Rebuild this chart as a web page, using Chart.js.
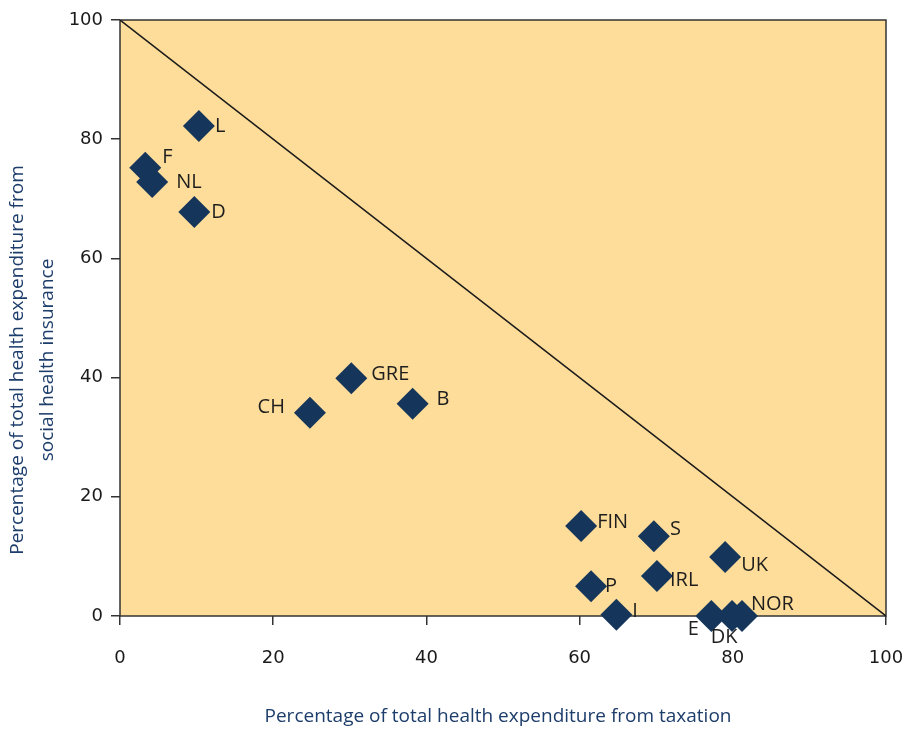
<!DOCTYPE html>
<html>
<head>
<meta charset="utf-8">
<script src="https://cdn.jsdelivr.net/npm/chart.js@4/dist/chart.umd.min.js"></script>
<style>
  html, body { margin: 0; padding: 0; background: #fff; }
  #wrap { width: 904px; height: 731px; }
</style>
</head>
<body>
<div id="wrap"><canvas id="chart"></canvas></div>
<script>
const countries = ["L", "F", "NL", "D", "GRE", "CH", "B", "FIN", "S", "UK", "IRL", "P", "I", "E", "DK", "NOR"];
const taxation = [10.3, 3.3, 4.2, 9.7, 30.2, 24.8, 38.2, 60.2, 69.7, 79.0, 70.1, 61.5, 64.8, 77.2, 79.9, 81.2];
const socialInsurance = [82.2, 75.2, 72.8, 67.8, 39.9, 34.1, 35.6, 15.1, 13.4, 9.9, 6.7, 5.0, 0.2, 0, 0, 0];
const diagonalX = [0, 100];
const diagonalY = [100, 0];
const tickValues = [0, 20, 40, 60, 80, 100];

// where each country label sits relative to its marker: [dx, dy, align]
const labelOffsets = [
  [16, 0, "left"], [17, -11, "left"], [24, 0, "left"], [17, 0, "left"],
  [20, -4, "left"], [-25, -5, "right"], [24, -5, "left"], [16, -4, "left"],
  [16, -7, "left"], [16, 8, "left"], [13, 4, "left"], [14, 0, "left"],
  [16, -4, "left"], [-18, 13, "center"], [-8, 21, "center"], [9, -12, "left"]
];

const NAVY = "#15365a";
const TITLE_COLOR = "#1d3d6b";

const plotBackground = {
  id: "plotBackground",
  beforeDatasetsDraw(chart) {
    const { ctx, chartArea: a } = chart;
    ctx.save();
    ctx.fillStyle = "#fedd9a";
    ctx.fillRect(a.left, a.top, a.right - a.left, a.bottom - a.top);
    ctx.strokeStyle = "#333";
    ctx.lineWidth = 1.5;
    ctx.strokeRect(a.left, a.top, a.right - a.left, a.bottom - a.top);
    ctx.restore();
  }
};

const pointLabels = {
  id: "pointLabels",
  afterDatasetsDraw(chart) {
    const { ctx } = chart;
    const meta = chart.getDatasetMeta(1);
    ctx.save();
    ctx.font = "20px 'Open Sans'";
    ctx.fillStyle = "#1e1e1e";
    ctx.textBaseline = "middle";
    meta.data.forEach((pt, i) => {
      const [dx, dy, align] = labelOffsets[i];
      ctx.textAlign = align;
      ctx.fillText(countries[i], pt.x + dx, pt.y + dy);
    });
    ctx.restore();
  }
};

const axisTitles = {
  id: "axisTitles",
  afterDraw(chart) {
    const { ctx } = chart;
    ctx.save();
    ctx.font = "19px 'Open Sans'";
    ctx.fillStyle = TITLE_COLOR;
    ctx.textAlign = "center";
    ctx.textBaseline = "middle";
    ctx.fillText("Percentage of total health expenditure from taxation", 498, 717);
    ctx.translate(0, 360);
    ctx.rotate(-Math.PI / 2);
    ctx.fillText("Percentage of total health expenditure from", 0, 18);
    ctx.fillText("social health insurance", 0, 48);
    ctx.restore();
  }
};

const noPad = scale => {
  scale.paddingLeft = 0;
  scale.paddingRight = 0;
  scale.paddingTop = 0;
  scale.paddingBottom = 0;
};

new Chart(document.getElementById("chart"), {
  type: "scatter",
  data: {
    datasets: [
      {
        type: "line",
        data: diagonalX.map((x, i) => ({ x, y: diagonalY[i] })),
        borderColor: "#1a1a1a",
        borderWidth: 1.5,
        pointRadius: 0,
        order: 2
      },
      {
        data: taxation.map((x, i) => ({ x, y: socialInsurance[i] })),
        pointStyle: "rectRot",
        pointRadius: 16,
        pointHoverRadius: 16,
        backgroundColor: NAVY,
        borderWidth: 0,
        clip: false,
        order: 1
      }
    ]
  },
  options: {
    responsive: true,
    maintainAspectRatio: false,
    animation: false,
    devicePixelRatio: 1,
    layout: { padding: { top: 20, right: 18, left: 0, bottom: 0 } },
    plugins: { legend: { display: false }, tooltip: { enabled: false } },
    scales: {
      x: {
        type: "linear",
        min: 0,
        max: 100,
        afterBuildTicks: s => { s.ticks = tickValues.map(v => ({ value: v })); },
        afterFit: s => { s.height = 115; noPad(s); },
        grid: { drawOnChartArea: false, tickLength: 9, color: "#333", lineWidth: 1.5 },
        border: { display: false },
        ticks: { color: "#1a1a1a", font: { family: "DejaVu Sans", size: 18 }, padding: 23, maxRotation: 0 }
      },
      y: {
        type: "linear",
        min: 0,
        max: 100,
        afterBuildTicks: s => { s.ticks = tickValues.map(v => ({ value: v })); },
        afterFit: s => { s.width = 120; noPad(s); },
        grid: { drawOnChartArea: false, tickLength: 9, color: "#333", lineWidth: 1.5 },
        border: { display: false },
        ticks: { color: "#1a1a1a", font: { family: "DejaVu Sans", size: 18 }, padding: 8 }
      }
    }
  },
  plugins: [plotBackground, pointLabels, axisTitles]
});
</script>
</body>
</html>
